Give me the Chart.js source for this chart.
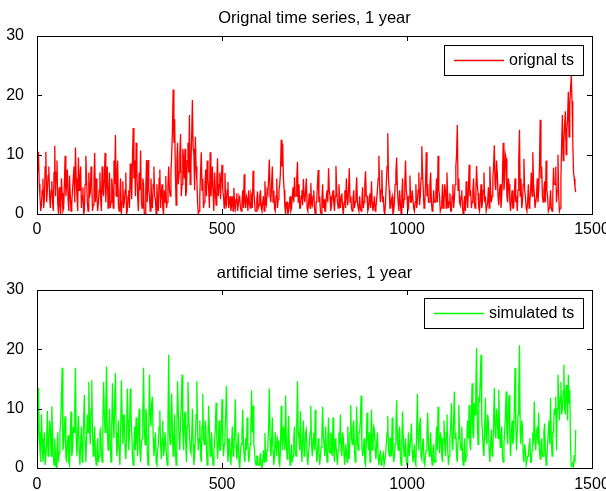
<!DOCTYPE html>
<html>
<head>
<meta charset="utf-8">
<title>time series, 1 year</title>
<script src="https://cdn.jsdelivr.net/npm/chart.js@4.4.1/dist/chart.umd.min.js"></script>
<style>
    html, body { margin: 0; padding: 0; background: #fff; overflow: hidden; }
    #wrap { position: relative; width: 606px; height: 491px; }
    canvas { position: absolute; left: 0; }
    #origChart { top: 0; }
    #simChart { top: 245px; }
</style>
</head>
<body>
<div id="wrap">
    <canvas id="origChart" width="606" height="245"></canvas>
    <canvas id="simChart" width="606" height="246"></canvas>
</div>
<script>
// values, one every 2 steps (x = 0, 2, 4, ... 1456)
const sampleStep = 2;

const originalTs = [
    9.5, 7, 10.5, 5, 3, 0.5, 1.5, 4, 6, 1, 2.5, 8, 10.5, 2, 4, 6.5, 8, 3, 1, 4, 5.5, 2, 0.5, 7, 11.5, 3, 7, 9, 2, 0, 4.5, 1.5, 0, 6, 3.5, 0.5, 1, 5, 9.8, 3, 5, 7.5, 2.5, 0.5, 6.5, 3, 0.5, 2, 4, 6,
    8, 2, 11.2, 6, 3, 0.5, 9.5, 4, 6, 8, 1, 3, 4.5, 0, 0.5, 5, 9.8, 6, 2, 0.5, 7, 3, 3.5, 8, 5, 0.5, 1.5, 6, 10.3, 2, 6, 3, 0.5, 2, 4, 7, 2.5, 0.5, 8, 4, 3, 6, 10.3, 2, 5.5, 8, 1, 3, 7, 1,
    2, 6, 4.5, 1, 9, 5, 13.3, 3, 6, 9, 1.5, 0.5, 3.5, 6, 0, 2, 5.5, 1, 2, 4, 7, 0, 0.5, 3, 4, 1, 8.5, 5, 2.5, 9, 14.5, 6, 9, 3, 12, 7, 3, 0.5, 7, 4, 10.7, 2, 1, 6, 5, 0, 0, 4, 9.1, 2,
    9.1, 4, 3, 0.5, 6, 2, 1, 5, 8, 3, 2.5, 0, 5, 2, 0.5, 6, 7.5, 1, 3.5, 5, 1, 0, 4, 2, 6.4, 1, 2, 5, 8, 4, 3, 7, 10, 14, 21, 12, 16, 7, 1.5, 9, 12, 5, 7, 10, 13.5, 3, 5, 11, 9.5, 6,
    11, 3, 4, 9, 12, 7, 16.7, 5, 8, 13, 19.2, 11, 10, 4, 13, 8, 5.7, 2, 0, 0.5, 3, 7, 10.4, 4, 6, 1, 2, 5, 7.5, 3, 9, 6, 4, 1, 10.4, 3, 5, 8, 3.2, 0.5, 7, 4, 1.5, 6, 9.4, 3, 5, 7, 2.5, 6,
    8.3, 4, 3, 1, 6.9, 2, 1.5, 4, 5.4, 1, 2, 3, 0.5, 1.5, 3, 0.5, 4.4, 2, 1, 2.5, 3.5, 0.5, 1.5, 3, 2.5, 1, 0.5, 2, 4, 1, 6.7, 2, 1, 3, 2.5, 0.5, 4, 2, 1, 3.5, 3, 1, 7.3, 4, 2, 0.5, 0.5, 2.5, 3.8, 1,
    1.5, 3, 4, 1, 0.5, 2, 3, 0.5, 5.5, 2, 1.5, 4, 3.5, 6, 9.2, 3, 2, 5, 8, 2, 4, 1, 0.5, 3, 6, 1, 2.5, 4, 5, 7, 12.5, 8, 11.9, 6, 4, 1, 0, 2, 2, 0, 0.5, 1.5, 3, 0.5, 1, 3, 4.5, 2, 6.2, 3,
    3, 6, 8.8, 2, 5, 1, 1, 3, 4, 1.5, 5.9, 3, 2, 4, 6, 1, 0.5, 2, 3.5, 1, 5.2, 2, 1.5, 3, 4, 1, 0, 2, 2, 5, 7.4, 2, 3, 0.5, 0, 2.5, 5, 1, 2.5, 0.5, 0.5, 3, 4, 2, 7.7, 4, 3, 0.5, 1.5, 3,
    4, 2, 0.5, 3, 8.1, 4, 2, 1, 5, 2.5, 1, 3, 3.5, 1, 0, 2, 4, 1, 6, 3, 1.5, 4, 7.7, 2, 3, 1, 0.5, 2.5, 4, 1, 2, 3.5, 6.2, 2, 1, 0.5, 3, 1, 0.5, 2, 4.5, 1, 2, 5, 7.2, 3, 3, 0.5, 1, 2,
    3.5, 1, 5.5, 2, 0.5, 1.5, 3, 0.5, 1, 2.5, 4, 6, 9.8, 5, 2, 4, 7.4, 2, 3, 0.5, 0, 2, 5, 8, 13.6, 6, 4, 1, 1, 2.5, 3, 0, 0.5, 2, 5, 7, 9.5, 4, 2, 0.5, 4, 2, 0, 3, 6, 1, 2.5, 5, 9, 4,
    3, 0.5, 1, 3, 6.5, 2, 2, 4, 4, 1, 0.5, 2, 5, 1, 2, 4, 7, 1.5, 3, 6, 11.4, 7, 4, 1, 1.5, 5, 10.4, 3, 5, 2, 2, 5, 7, 2, 0.5, 1, 4, 2, 2, 3.5, 6, 2, 9.8, 4, 3, 0.5, 1, 2, 5, 1,
    2, 5, 4, 1, 7, 3, 1, 2, 3.5, 0.5, 0.5, 3, 5, 1, 2.5, 5, 8, 10, 15, 4, 6, 2, 1.5, 3, 4, 1, 0, 2, 3, 0.5, 5.5, 3, 1, 4, 8.3, 3, 4, 1, 2, 4, 6, 2, 1, 3, 8.1, 5, 3.5, 1, 0.5, 2.5,
    5, 1, 2, 4, 7, 2, 3, 0.5, 0.5, 2, 4.5, 1, 8, 4, 2, 3, 6, 8, 11.6, 5, 4, 9, 7, 3, 1.5, 4, 5, 1, 3, 6, 12, 4, 6, 10, 9.3, 3, 2, 6, 5, 2, 0.5, 2.5, 4, 1, 1, 3, 6, 2, 3, 0.5,
    4, 9, 14.2, 3, 6, 1, 2, 5, 9.3, 4, 3, 1, 0.5, 2, 5, 1, 2, 4, 7, 3, 10.4, 5, 3.5, 1, 1, 3, 6, 2, 4, 8, 15.9, 6, 8, 3, 2, 4, 5.5, 2, 9, 4, 3, 0.5, 1, 2, 4, 1, 0.5, 3, 7.8, 5,
    5, 8, 2, 4, 10, 3, 0.5, 1, 6, 12, 16.7, 9, 12, 15, 17.3, 10, 14, 16, 20.6, 13, 18.5, 21, 23.4, 19, 12.6, 7, 6, 4.5, 3.7
];

const simulatedTs = [
    11, 4, 13.5, 6, 3, 1, 9, 5, 1, 3, 6, 0.5, 0.5, 4, 9.6, 2, 3.5, 8, 7, 2, 10.4, 6, 2, 0.5, 5, 2, 0, 3, 6, 1, 2.5, 6, 8, 12, 16.9, 3, 4, 7, 8.7, 2, 1, 4, 5.5, 1, 0.5, 6, 9.5, 2, 3, 7,
    6, 10, 16.9, 5, 2, 6, 8.8, 3, 0.5, 4, 7, 1, 3, 8, 12.3, 4, 1, 5, 9, 6, 14.5, 7, 4, 10, 14.8, 6, 2, 4, 7, 2, 0.5, 3, 5, 1, 2, 6, 6.5, 3, 1, 8, 14.5, 9, 6, 11, 17.1, 7, 3, 5, 10, 4,
    1, 7, 14.3, 8, 5, 11, 16, 6, 2, 4, 8, 3, 0.5, 6, 14.8, 9, 4, 7, 9, 3, 1.5, 5, 13.4, 8, 3, 6, 13.4, 9, 6, 2, 0.5, 4, 7, 3, 8.5, 5, 2, 7, 10, 3, 1, 4, 5, 9, 16.9, 7, 4, 10, 9, 3,
    0.5, 6, 15.7, 9, 7, 11, 12, 5, 2, 4, 6, 1, 0.5, 3, 4, 7, 9.7, 4, 1.5, 5, 8, 2, 3, 6, 6, 2, 0.5, 8, 19.1, 6, 4, 9, 12.5, 6, 2, 5, 9, 3, 0.5, 7, 14.6, 9, 5, 3, 8, 11, 15.7, 6, 3, 8,
    9.5, 4, 1, 7, 14.5, 9, 6, 3, 2.5, 5, 10, 4, 0.5, 2, 5, 9, 14.6, 6, 3, 5, 8, 2, 1, 7, 12.5, 5, 4, 8, 7, 3, 0.5, 5, 10.5, 6, 2, 4, 6, 2, 0.5, 3, 4, 7, 11, 5, 1.5, 4, 8, 3, 3, 6,
    11.6, 5, 2, 4, 6, 9, 13.8, 5, 1, 3, 5, 2, 0.5, 4, 7, 2, 3, 6, 11.6, 4, 1.5, 3, 6, 1, 0, 3, 4, 6, 9.8, 4, 2, 1, 5, 3, 8.5, 4, 1, 2, 4, 7, 13.1, 6, 10.5, 4, 3, 1, 0.5, 2, 2, 0.5,
    0.5, 1.5, 2.5, 0.5, 0, 1, 3, 1, 5.9, 2, 1, 3, 4, 7, 13.4, 5, 2, 4, 8.5, 3, 0.5, 2, 6, 4, 2, 5, 4.5, 1, 0.5, 3, 10.5, 5, 3, 7, 6, 3, 12.2, 4, 1.5, 5, 8.8, 3, 0.5, 2, 4, 1, 2, 5, 7, 3,
    2, 7, 14.6, 6, 5, 3, 9.6, 4, 1, 5, 8, 2, 3, 6, 6.5, 2, 0.5, 3, 4, 6, 10.5, 4, 2, 5, 6, 3, 9.8, 4, 1, 2, 5, 3, 0.5, 2, 3.5, 6, 10.3, 5, 4, 2, 7, 3, 1, 5, 8.5, 3, 2.5, 6, 5, 2,
    8.5, 3, 1, 5, 4, 2, 0.5, 3, 6, 4, 9, 3, 2, 6, 5, 2, 0.5, 4, 3, 1, 7, 3, 1.5, 6, 10.6, 5, 4, 7, 8, 3, 1, 5, 10.3, 4, 3, 6, 6, 8, 12.2, 4, 2, 3, 5, 1, 0.5, 4, 9.3, 5, 3, 6,
    1, 5, 9.8, 3, 4, 7, 6.5, 3, 1.5, 4, 6, 2, 0.5, 2, 3, 0.5, 1, 2, 2.5, 0.5, 0.5, 2, 4, 6, 8.8, 3, 2, 5, 5, 2, 8.5, 3, 1, 2, 4, 7, 11.4, 5, 3, 6, 7, 2, 0.5, 4, 9.5, 5, 2, 3, 5, 1,
    0.5, 3, 6, 2, 2, 5, 7.5, 3, 1, 2, 4, 1, 0.5, 6, 12.5, 5, 3, 7, 8.5, 2, 1.5, 4, 5, 1, 0.5, 2, 3, 6, 9.3, 4, 2, 3, 6, 2, 0.5, 3, 4, 1, 1, 4, 7, 3, 10.3, 5, 2.5, 6, 5, 2, 1, 5,
    8, 4, 2, 6, 9, 3, 0.5, 2, 5, 7, 10.9, 4, 3, 8, 12.9, 5, 6, 2, 1, 5, 10.6, 6, 4, 3, 7, 2, 0.5, 3, 5, 1, 2, 6, 8, 5, 10.6, 4, 3, 9, 14.3, 6, 5, 11, 9, 13, 20.2, 8, 4, 12, 11, 15,
    19.1, 8, 6, 3, 2, 7, 11.8, 5, 4, 9, 8, 3, 1, 4, 6.5, 2, 3, 8, 13.5, 6, 5, 10, 9, 5, 13.2, 7, 3.5, 5, 7, 2, 1, 4, 6, 9, 12.9, 6, 4, 10, 12.3, 5, 2, 6, 8, 4, 5, 10, 16.9, 7, 3, 6,
    9, 13, 20.7, 6, 4, 8, 7, 2, 1, 4, 3, 0.5, 0.5, 2, 2, 4, 5, 1, 1, 3, 6, 4, 11.2, 5, 3, 6, 7, 4, 9.3, 3, 1.5, 4, 5, 2, 2, 6, 7.5, 3, 0.5, 2, 4, 6, 8, 4, 11.8, 5, 2, 6, 6, 10,
    9, 12, 3, 10, 15.7, 11, 8, 12, 14.5, 9, 10, 13, 17.4, 10, 9, 14, 12, 8, 15.7, 11, 13.2, 4, 0.3, 0.5, 1, 0, 2.2, 1, 6.4
];

const xTicks = [0, 500, 1000, 1500];
const yTicks = [0, 10, 20, 30];

const FONT = '"Liberation Sans", Arial, sans-serif';

// matlab style box, inward ticks, title and legend
const axesBox = {
    id: 'axesBox',
    afterDatasetsDraw(chart, args, opts) {
        const ctx = chart.ctx;
        const area = chart.chartArea;
        const xs = chart.scales.x;
        const ys = chart.scales.y;
        const tickLen = 5;

        ctx.save();
        ctx.strokeStyle = '#000';
        ctx.lineWidth = 1;
        ctx.strokeRect(area.left + 0.5, area.top + 0.5, area.right - area.left, area.bottom - area.top);

        ctx.beginPath();
        xTicks.forEach(v => {
            const px = Math.round(xs.getPixelForValue(v)) + 0.5;
            ctx.moveTo(px, area.bottom);
            ctx.lineTo(px, area.bottom - tickLen);
            ctx.moveTo(px, area.top);
            ctx.lineTo(px, area.top + tickLen);
        });
        yTicks.forEach(v => {
            const py = Math.round(ys.getPixelForValue(v)) + 0.5;
            ctx.moveTo(area.left, py);
            ctx.lineTo(area.left + tickLen, py);
            ctx.moveTo(area.right, py);
            ctx.lineTo(area.right - tickLen, py);
        });
        ctx.stroke();

        // title
        ctx.fillStyle = '#000';
        ctx.font = '16.5px ' + FONT;
        ctx.textAlign = 'center';
        ctx.textBaseline = 'middle';
        ctx.fillText(opts.title, (area.left + area.right) / 2, opts.titleY);

        // legend
        ctx.font = '16px ' + FONT;
        const ds = chart.data.datasets[0];
        const textW = ctx.measureText(ds.label).width;
        const boxW = Math.round(textW) + 74;
        const boxH = 30;
        const boxL = Math.round(area.right - 9 - boxW);
        const boxT = Math.round(area.top + opts.legendTop);
        ctx.fillStyle = '#fff';
        ctx.fillRect(boxL, boxT, boxW, boxH);
        ctx.strokeRect(boxL + 0.5, boxT + 0.5, boxW, boxH);
        ctx.beginPath();
        ctx.strokeStyle = opts.lineColor;
        ctx.lineWidth = 1.4;
        ctx.moveTo(boxL + 10, boxT + 15.5);
        ctx.lineTo(boxL + 60, boxT + 15.5);
        ctx.stroke();
        ctx.fillStyle = '#000';
        ctx.textAlign = 'left';
        ctx.fillText(ds.label, boxL + 65, boxT + 16);
        ctx.restore();
    }
};

function makeChart(canvasId, values, label, color, title, cfg) {
    const ctx = document.getElementById(canvasId).getContext('2d');
    return new Chart(ctx, {
        type: 'line',
        data: {
            datasets: [{
                label: label,
                data: values.map((v, i) => ({ x: i * sampleStep, y: v })),
                borderColor: color,
                borderWidth: 1.3,
                pointRadius: 0,
                tension: 0,
                fill: false
            }]
        },
        options: {
            responsive: false,
            animation: false,
            devicePixelRatio: 1,
            layout: {
                padding: { top: cfg.top, left: 0, right: 14, bottom: 0 }
            },
            scales: {
                x: {
                    type: 'linear',
                    min: 0,
                    max: 1500,
                    grid: { display: false },
                    border: { display: false },
                    ticks: {
                        stepSize: 500,
                        maxRotation: 0,
                        padding: cfg.xPad,
                        color: '#000',
                        font: { family: FONT, size: 16 },
                        callback: v => String(v)
                    },
                    afterFit: s => {
                        s.height = cfg.xHeight;
                        s.paddingLeft = 0;
                        s.paddingRight = 0;
                    }
                },
                y: {
                    min: 0,
                    max: 30,
                    grid: { display: false },
                    border: { display: false },
                    ticks: {
                        stepSize: 10,
                        padding: 5,
                        color: '#000',
                        font: { family: FONT, size: 16 },
                        callback: v => String(v)
                    },
                    afterFit: s => {
                        s.width = 37;
                    }
                }
            },
            plugins: {
                legend: { display: false },
                tooltip: { enabled: false },
                axesBox: { title: title, titleY: cfg.titleY, legendTop: cfg.legendTop, lineColor: color }
            }
        },
        plugins: [axesBox]
    });
}

makeChart('origChart', originalTs, 'orignal ts', '#ff0000', 'Orignal time series, 1 year',
    { top: 36, xHeight: 31, xPad: -2, titleY: 18, legendTop: 9 });
makeChart('simChart', simulatedTs, 'simulated ts', '#00ff00', 'artificial time series, 1 year',
    { top: 45, xHeight: 23, xPad: -1, titleY: 28.5, legendTop: 8 });
</script>
</body>
</html>
